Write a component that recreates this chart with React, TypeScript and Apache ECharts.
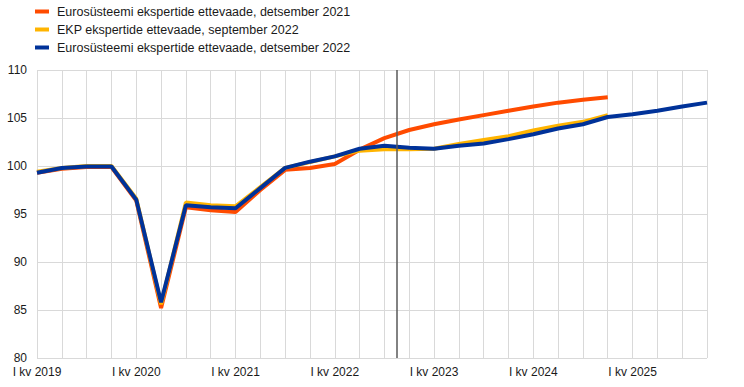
import React, { useEffect, useRef } from "react";
import * as echarts from "echarts";

const quarters: string[] = [];
for (let y = 2019; y <= 2025; y++) {
  for (const q of ["I", "II", "III", "IV"]) quarters.push(`${q} kv ${y}`);
}

const seriesNames = [
  "Eurosüsteemi ekspertide ettevaade, detsember 2021",
  "EKP ekspertide ettevaade, september 2022",
  "Eurosüsteemi ekspertide ettevaade, detsember 2022",
];

const dec2021 = [
  99.3, 99.7, 99.9, 99.9, 96.4, 85.2, 95.7, 95.4, 95.2, 97.5, 99.6, 99.8,
  100.2, 101.7, 102.9, 103.75, 104.35, 104.85, 105.3, 105.75, 106.2, 106.6, 106.9, 107.15,
];
const sep2022 = [
  99.4, 99.8, 100.0, 100.0, 96.6, 85.6, 96.2, 95.9, 95.8, 97.8, 99.8, 100.4,
  101.0, 101.6, 101.75, 101.75, 101.8, 102.3, 102.7, 103.1, 103.7, 104.2, 104.6, 105.3,
];
const dec2022 = [
  99.3, 99.8, 99.95, 99.95, 96.5, 85.8, 95.9, 95.7, 95.6, 97.7, 99.8, 100.45,
  101.0, 101.8, 102.1, 101.9, 101.8, 102.1, 102.35, 102.8, 103.3, 103.9, 104.35, 105.1,
  105.4, 105.76, 106.2, 106.6,
];

const cutoffPosition = 14.5; // between III kv 2022 and IV kv 2022

const colors = ["#FF4B00", "#FFB400", "#003299"];

const toPairs = (arr: number[]) => arr.map((v, i) => [i, v]);

export default function App() {
  const ref = useRef<HTMLDivElement>(null);
  useEffect(() => {
    if (!ref.current) return;
    const chart = echarts.init(ref.current, undefined, { renderer: "svg" });
    const font = "Arial, 'Liberation Sans', sans-serif";
    chart.setOption({
      animation: false,
      textStyle: { fontFamily: font },
      legend: {
        orient: "vertical",
        left: 30,
        top: 0,
        itemWidth: 14,
        itemHeight: 4,
        itemGap: 5,
        icon: "rect",
        textStyle: {
          fontSize: 12.5,
          lineHeight: 13,
          color: "#1a1a1a",
          fontFamily: font,
          padding: [0, 0, 0, 3],
        },
        data: seriesNames,
      },
      grid: { left: 37, right: 37, top: 70, bottom: 29, containLabel: false },
      xAxis: {
        type: "value",
        min: 0,
        max: quarters.length - 1,
        interval: 1,
        axisLine: { show: false },
        axisTick: { show: false },
        splitLine: { show: true, lineStyle: { color: "#d9d9d9", width: 1 } },
        axisLabel: {
          margin: 8,
          fontSize: 12,
          color: "#1a1a1a",
          fontFamily: font,
          showMinLabel: true,
          showMaxLabel: true,
          formatter: (v: number) => {
            const label = quarters[Math.round(v)] || "";
            return label.startsWith("I kv") ? label : "";
          },
        },
      },
      yAxis: {
        type: "value",
        min: 80,
        max: 110,
        interval: 5,
        axisLine: { show: false },
        axisTick: { show: false },
        splitLine: { show: true, lineStyle: { color: "#d9d9d9", width: 1 } },
        axisLabel: { margin: 10, fontSize: 12, color: "#1a1a1a", fontFamily: font },
      },
      series: [
        {
          name: seriesNames[0],
          type: "line",
          data: toPairs(dec2021),
          symbol: "none",
          lineStyle: { color: colors[0], width: 4 },
          itemStyle: { color: colors[0] },
          z: 2,
        },
        {
          name: seriesNames[1],
          type: "line",
          data: toPairs(sep2022),
          symbol: "none",
          lineStyle: { color: colors[1], width: 4 },
          itemStyle: { color: colors[1] },
          z: 3,
        },
        {
          name: seriesNames[2],
          type: "line",
          data: toPairs(dec2022),
          symbol: "none",
          lineStyle: { color: colors[2], width: 4 },
          itemStyle: { color: colors[2] },
          z: 4,
          markLine: {
            silent: true,
            symbol: "none",
            label: { show: false },
            lineStyle: { color: "#595959", width: 1.5, type: "solid" },
            data: [{ xAxis: cutoffPosition }],
          },
        },
      ],
    });
    return () => chart.dispose();
  }, []);
  return (
    <div
      ref={ref}
      style={{ position: "fixed", left: 0, top: 0, width: 744, height: 387, background: "#fff" }}
    />
  );
}
